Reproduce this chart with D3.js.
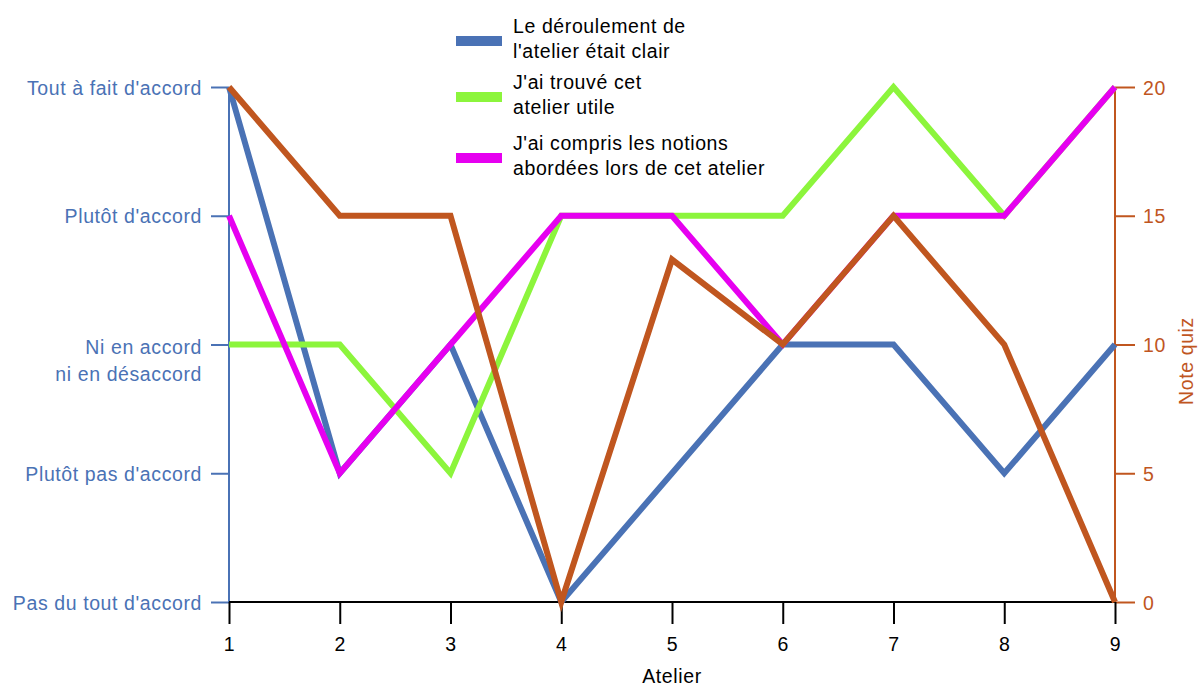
<!DOCTYPE html>
<html>
<head>
<meta charset="utf-8">
<script src="https://cdn.jsdelivr.net/npm/d3@7"></script>
<style>
  body { margin: 0; background: #fff; }
  svg { font-family: "Liberation Sans", Arial, sans-serif; }
  svg text { letter-spacing: 0.6px; }
</style>
</head>
<body>
<div id="chart"></div>
<script>
// ateliers 1..9
var ateliers = [1, 2, 3, 4, 5, 6, 7, 8, 9];

// left axis levels (1 = pas du tout, 5 = tout a fait)
var niveaux = ["Pas du tout d'accord", "Plutôt pas d'accord", "Ni en accord\nni en désaccord", "Plutôt d'accord", "Tout à fait d'accord"];

var deroulement = [5, 2, 3, 1, 2, 3, 3, 2, 3];
var utile = [3, 3, 2, 4, 4, 4, 5, 4, 5];
var compris = [4, 2, 3, 4, 4, 3, 4, 4, 5];
var noteQuiz = [20, 15, 15, 0, 13.3, 10, 15, 10, 0];

var quizTicks = [0, 5, 10, 15, 20];

var legendLabels = [
  ["Le déroulement de", "l'atelier était clair"],
  ["J'ai trouvé cet", "atelier utile"],
  ["J'ai compris les notions", "abordées lors de cet atelier"]
];

var cBlue = "#4a72b5", cGreen = "#8cf53c", cPink = "#e600f0", cOrange = "#c0561f";
var fs = 19.5;

var width = 1198, height = 686;
var svg = d3.select("#chart").append("svg")
  .attr("width", width).attr("height", height);

var x = d3.scaleLinear().domain([1, 9]).range([229, 1115]);
var yL = d3.scaleLinear().domain([1, 5]).range([602, 87]);
var yR = d3.scaleLinear().domain([0, 20]).range([602, 87]);

// left axis
var left = svg.append("g").attr("transform", "translate(229,0)")
  .call(d3.axisLeft(yL).tickValues([1, 2, 3, 4, 5]).tickSize(18).tickPadding(8).tickFormat(""));
left.selectAll("path, line").attr("stroke", cBlue).attr("stroke-width", 2);
left.select(".domain").attr("d", "M0," + yL(1) + "V" + yL(5));
left.selectAll(".tick").each(function (d) {
  var lines = niveaux[d - 1].split("\n");
  var t = d3.select(this).append("text")
    .attr("text-anchor", "end")
    .attr("fill", cBlue).attr("font-size", fs);
  var y0 = lines.length > 1 ? 9 : 7;
  lines.forEach(function (l, i) {
    t.append("tspan").attr("x", -27).attr("y", y0 + i * 27).text(l);
  });
});

// right axis
var right = svg.append("g").attr("transform", "translate(1115,0)")
  .call(d3.axisRight(yR).tickValues(quizTicks).tickSize(20).tickPadding(8));
right.selectAll("path, line").attr("stroke", cOrange).attr("stroke-width", 2);
right.select(".domain").attr("d", "M0," + yR(0) + "V" + yR(20));
right.selectAll("text").attr("fill", cOrange).attr("font-size", fs)
  .attr("font-family", "Liberation Sans, Arial, sans-serif").attr("dy", "0.36em");

svg.append("text")
  .attr("transform", "translate(1193,361) rotate(-90)")
  .attr("text-anchor", "middle").attr("fill", cOrange).attr("font-size", fs)
  .text("Note quiz");

// bottom axis
var bottom = svg.append("g").attr("transform", "translate(0,602)")
  .call(d3.axisBottom(x).tickValues(ateliers).tickSize(22).tickPadding(13).tickFormat(d3.format("d")));
bottom.selectAll("path, line").attr("stroke", "#000").attr("stroke-width", 2);
bottom.select(".domain").attr("d", "M" + x(1) + ",0H" + x(9));
bottom.selectAll("text").attr("fill", "#000").attr("font-size", fs)
  .attr("font-family", "Liberation Sans, Arial, sans-serif");

svg.append("text").attr("x", x(5)).attr("y", 683)
  .attr("text-anchor", "middle").attr("font-size", fs).text("Atelier");

// lines
var lineL = d3.line().x(function (d, i) { return x(ateliers[i]); }).y(function (d) { return yL(d); });
var lineR = d3.line().x(function (d, i) { return x(ateliers[i]); }).y(function (d) { return yR(d); });

var series = [
  { data: deroulement, color: cBlue, fn: lineL },
  { data: utile, color: cGreen, fn: lineL },
  { data: compris, color: cPink, fn: lineL },
  { data: noteQuiz, color: cOrange, fn: lineR }
];

svg.append("g").selectAll("path").data(series).enter().append("path")
  .attr("d", function (s) { return s.fn(s.data); })
  .attr("fill", "none")
  .attr("stroke", function (s) { return s.color; })
  .attr("stroke-width", 6)
  .attr("stroke-linejoin", "miter");

// legend
var legendColors = [cBlue, cGreen, cPink];
var legendY = [41, 97, 158];
var lg = svg.append("g").selectAll("g").data(legendLabels).enter().append("g")
  .attr("transform", function (d, i) { return "translate(456," + legendY[i] + ")"; });
lg.append("rect").attr("x", 0).attr("y", -5).attr("width", 46).attr("height", 10)
  .attr("fill", function (d, i) { return legendColors[i]; });
lg.each(function (d) {
  var t = d3.select(this).append("text").attr("font-size", fs).attr("fill", "#000");
  d.forEach(function (l, i) {
    t.append("tspan").attr("x", 57).attr("y", -8 + i * 24.5).text(l);
  });
});
</script>
</body>
</html>
